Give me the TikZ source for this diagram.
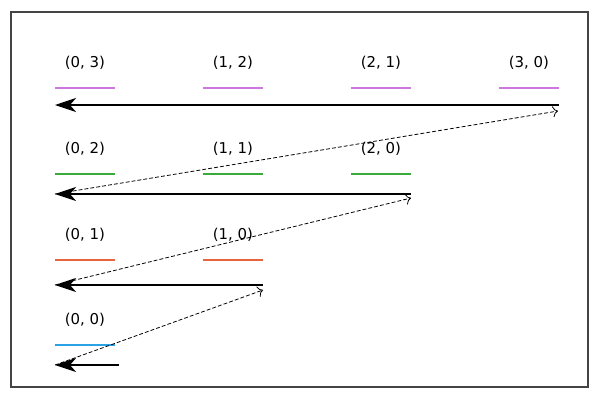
\documentclass[tikz,border=0pt]{standalone}
\usepackage{fontspec}
\setmainfont{DejaVu Sans}
\usetikzlibrary{arrows.meta}
\definecolor{cpurple}{HTML}{CC77DD}
\definecolor{cgreen}{HTML}{3AAA3A}
\definecolor{corange}{HTML}{E8643C}
\definecolor{cblue}{HTML}{29A3E6}
\definecolor{cframe}{HTML}{444444}
\tikzset{
  lbl/.style={font=\fontsize{8.5}{10}\selectfont},
  bar/.style={line width=1.2pt},
  sweep/.style={line width=1.2pt, -{Stealth[length=12pt,width=8pt,inset=3.5pt]}},
  jump/.style={dash pattern=on 2.2pt off 1.2pt, line width=0.45pt, -{To[length=3pt]}}
}

\begin{document}
\begin{tikzpicture}[x=0.02cm,y=-0.02cm]
  \useasboundingbox (0,0) rectangle (600,400);
  \draw[cframe, line width=0.6pt] (11,12) rectangle (588,387);
  % one row per anti-diagonal i+j = r
  \foreach \r/\yy/\c in {3/88/cpurple,2/174/cgreen,1/260/corange,0/345/cblue}{
    \foreach \i in {0,...,\r}{
      \pgfmathtruncatemacro{\j}{\r-\i}
      \draw[bar,\c] (55+148*\i,\yy) -- ++(60,0);
      \node[lbl] (l\i\j) at (85+148*\i,\yy-25) {(\i, \j)};
    }
  }
  % sweep ends
  \coordinate (t3) at (559,105); \coordinate (h3) at (55,105);
  \coordinate (t2) at (411,194); \coordinate (h2) at (55,194);
  \coordinate (t1) at (263,285); \coordinate (h1) at (55,285);
  \coordinate (t0) at (119,365); \coordinate (h0) at (55,365);
  \coordinate (e3) at (558,111);
  \coordinate (e2) at (411,198);
  \coordinate (e1) at (263,290);
  \foreach \r in {3,2,1,0}{
    \draw[sweep] (t\r) -- (h\r);
  }
  \draw[jump] (h2) -- (e3);
  \draw[jump] (h1) -- (e2);
  \draw[jump] (h0) -- (e1);
\end{tikzpicture}
\end{document}
